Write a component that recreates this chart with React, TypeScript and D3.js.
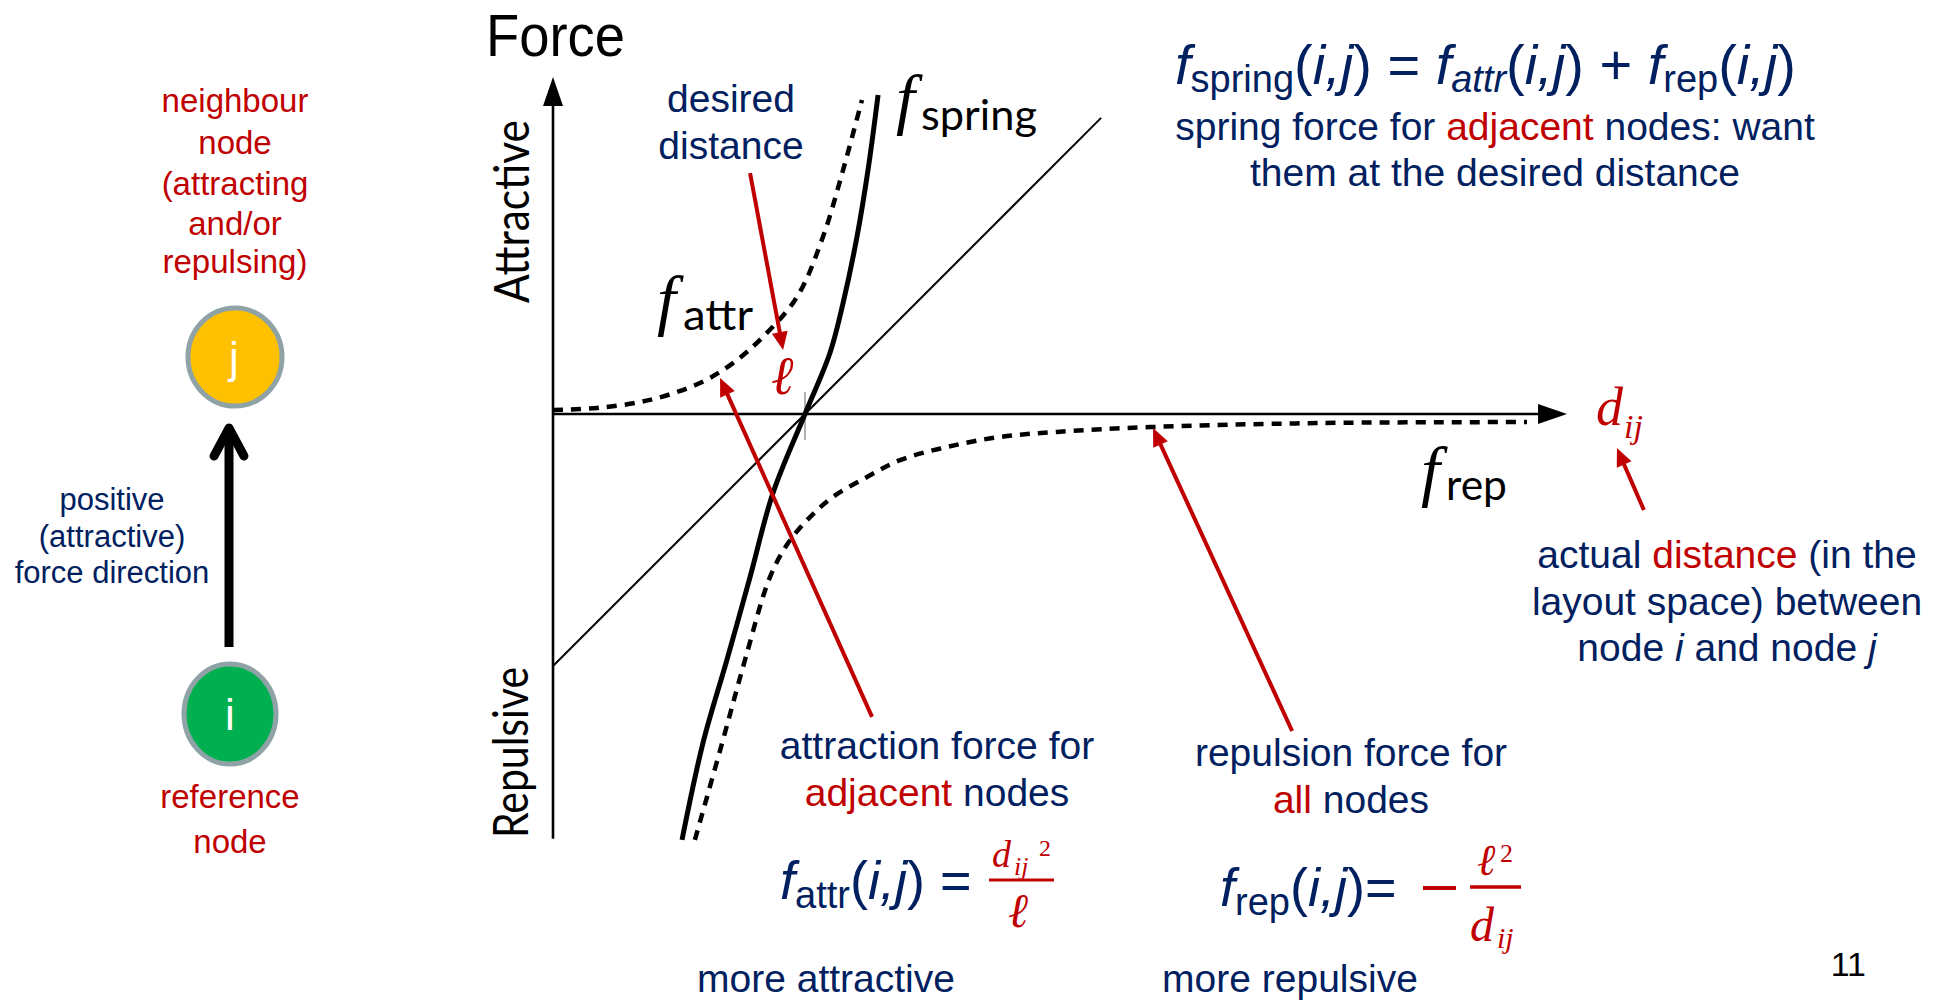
import React from 'react';
import * as d3 from 'd3';

const W = 1944;
const H = 1005;
const NAVY = '#002060';
const RED = '#C00000';

// distance d (in units of the desired length ℓ) and force f (same units)
const attrD = [0, 0.175, 0.385, 0.583, 0.714, 0.833, 0.968, 1.071, 1.151, 1.226];
const attrF = [0.016, 0.024, 0.056, 0.123, 0.202, 0.306, 0.464, 0.702, 0.968, 1.246];

const springD = [0.512, 0.595, 0.69, 0.782, 0.873, 1.0, 1.099, 1.151, 1.206, 1.25, 1.29];
const springF = [-1.69, -1.306, -0.976, -0.647, -0.313, 0, 0.242, 0.44, 0.702, 0.968, 1.266];

const repD = [0.563, 0.671, 0.762, 0.861, 0.933, 1.02, 1.111, 1.246, 1.377, 1.563, 1.774, 2.0, 2.369, 3.032, 3.865];
const repF = [-1.69, -1.306, -0.976, -0.647, -0.512, -0.409, -0.329, -0.25, -0.183, -0.131, -0.091, -0.071, -0.052, -0.036, -0.032];

const diagD = [0, 2.175];
const diagF = [-1.0, 1.175];

// axis extents
const xAxisMax = 4.024;
const yAxisMin = -1.686;
const yAxisMax = 1.337;

// annotation arrows: [fromD, fromF, toD, toF]
const annotArrows = [
  [0.782, 0.956, 0.913, 0.254],
  [1.266, -1.202, 0.663, 0.143],
  [2.933, -1.258, 2.381, -0.056],
  [4.329, -0.381, 4.222, -0.135],
];

const x = d3.scaleLinear().domain([0, 1]).range([553, 805]);
const y = d3.scaleLinear().domain([0, 1]).range([414, 162]);

const line = d3
  .line<[number, number]>()
  .x((p) => x(p[0]))
  .y((p) => y(p[1]))
  .curve(d3.curveCatmullRom.alpha(0.5));

const zip = (a: number[], b: number[]) => a.map((v, i) => [v, b[i]] as [number, number]);

function Arrow({ x1, y1, x2, y2, color, width, head, headW }: any) {
  const dx = x2 - x1;
  const dy = y2 - y1;
  const len = Math.sqrt(dx * dx + dy * dy);
  const ux = dx / len;
  const uy = dy / len;
  const bx = x2 - ux * head;
  const by = y2 - uy * head;
  const px = -uy * headW;
  const py = ux * headW;
  return (
    <g>
      <line x1={x1} y1={y1} x2={bx + ux * 2} y2={by + uy * 2} stroke={color} strokeWidth={width} />
      <polygon points={`${x2},${y2} ${bx + px},${by + py} ${bx - px},${by - py}`} fill={color} />
    </g>
  );
}

const SANS = "'Liberation Sans', Arial, sans-serif";
const CM = "Lato, 'Open Sans', sans-serif";
const SERIF = "'Liberation Serif', 'DejaVu Serif', serif";
const MATH = "'DejaVu Serif', 'Liberation Serif', serif";

export default function App() {
  const x0 = x(0);
  const yTop = y(yAxisMax);
  const yBot = y(yAxisMin);
  const xEnd = x(xAxisMax);
  const y0 = y(0);

  return (
    <svg
      width={W}
      height={H}
      viewBox={`0 0 ${W} ${H}`}
      style={{ position: 'fixed', left: 0, top: 0, background: '#fff', display: 'block' }}
    >
      <rect x={0} y={0} width={W} height={H} fill="#fff" />

      {/* ---------- Left panel ---------- */}
      <g fontFamily={SANS} fontSize={33} fill={RED} textAnchor="middle">
        <text x={235} y={112}>neighbour</text>
        <text x={235} y={154}>node</text>
        <text x={235} y={195}>(attracting</text>
        <text x={235} y={235}>and/or</text>
        <text x={235} y={273}>repulsing)</text>
        <text x={230} y={808}>reference</text>
        <text x={230} y={853}>node</text>
      </g>
      <ellipse cx={235} cy={357} rx={47} ry={49} fill="#FFC000" stroke="#8FA3A6" strokeWidth={5} />
      <text x={234} y={373} fontFamily={SANS} fontSize={44} fill="#fff" textAnchor="middle">j</text>
      <ellipse cx={230} cy={714} rx={46} ry={50} fill="#00B050" stroke="#8FA3A6" strokeWidth={5} />
      <text x={230} y={730} fontFamily={SANS} fontSize={44} fill="#fff" textAnchor="middle">i</text>

      <line x1={229} y1={647} x2={229} y2={430} stroke="#000" strokeWidth={9} />
      <polyline points="214,456 229,428 244,456" fill="none" stroke="#000" strokeWidth={9} strokeLinecap="round" strokeLinejoin="round" />

      <g fontFamily={SANS} fontSize={31} fill={NAVY} textAnchor="middle">
        <text x={112} y={510}>positive</text>
        <text x={112} y={547}>(attractive)</text>
        <text x={112} y={583}>force direction</text>
      </g>

      {/* ---------- Axes ---------- */}
      <text x={486} y={56} fontFamily={SANS} fontSize={59} fill="#000" textLength={139} lengthAdjust="spacingAndGlyphs">Force</text>
      <text transform={`translate(529,303) rotate(-90)`} fontFamily={CM} fontSize={48} fill="#000" textLength={183} lengthAdjust="spacingAndGlyphs">Attractive</text>
      <text transform={`translate(528,838) rotate(-90)`} fontFamily={CM} fontSize={48} fill="#000" textLength={171} lengthAdjust="spacingAndGlyphs">Repulsive</text>

      <line x1={x0} y1={yBot} x2={x0} y2={yTop + 20} stroke="#000" strokeWidth={2.6} />
      <polygon points={`${x0},${yTop} ${x0 - 10},${yTop + 29} ${x0 + 10},${yTop + 29}`} fill="#000" />
      <line x1={x0} y1={y0} x2={xEnd - 20} y2={y0} stroke="#000" strokeWidth={2.6} />
      <polygon points={`${xEnd},${y0} ${xEnd - 29},${y0 - 10} ${xEnd - 29},${y0 + 10}`} fill="#000" />

      {/* tick at desired length */}
      <line x1={x(1)} y1={y(0.087)} x2={x(1)} y2={y(-0.103)} stroke="#999" strokeWidth={1.5} />

      {/* ---------- Curves ---------- */}
      <path d={line(zip(diagD, diagF)) || ''} fill="none" stroke="#000" strokeWidth={2} />
      <path d={line(zip(attrD, attrF)) || ''} fill="none" stroke="#000" strokeWidth={4.5} strokeDasharray="10 8" />
      <path d={line(zip(repD, repF)) || ''} fill="none" stroke="#000" strokeWidth={4.5} strokeDasharray="10 8" />
      <path d={line(zip(springD, springF)) || ''} fill="none" stroke="#000" strokeWidth={5} />

      {/* curve labels */}
      <text x={896} y={122} fontFamily={SERIF} fontStyle="italic" fontSize={68} fill="#000">f</text>
      <text x={921} y={130} fontFamily={CM} fontSize={42} fill="#000" textLength={116} lengthAdjust="spacingAndGlyphs">spring</text>
      <text x={657} y={323} fontFamily={SERIF} fontStyle="italic" fontSize={68} fill="#000">f</text>
      <text x={683} y={330} fontFamily={CM} fontSize={42} fill="#000" textLength={70} lengthAdjust="spacingAndGlyphs">attr</text>
      <text x={1421} y={494} fontFamily={SERIF} fontStyle="italic" fontSize={68} fill="#000">f</text>
      <text x={1446} y={500} fontFamily={CM} fontSize={42} fill="#000" textLength={61} lengthAdjust="spacingAndGlyphs">rep</text>

      <text x={771} y={394} fontFamily={MATH} fontStyle="italic" fontSize={54} fill={RED}>ℓ</text>
      <text x={1596} y={425} fontFamily={SERIF} fontStyle="italic" fontSize={54} fill={RED}>d</text>
      <text x={1624} y={438} fontFamily={SERIF} fontStyle="italic" fontSize={34} fill={RED}>ij</text>

      {/* annotation arrows */}
      {annotArrows.map((a, i) => (
        <Arrow key={i} x1={x(a[0])} y1={y(a[1])} x2={x(a[2])} y2={y(a[3])} color={RED} width={4} head={18} headW={8} />
      ))}

      {/* ---------- Texts ---------- */}
      <g fontFamily={SANS} fontSize={39} fill={NAVY} textAnchor="middle">
        <text x={731} y={112}>desired</text>
        <text x={731} y={159}>distance</text>

        <text x={1495} y={140}>
          spring force for <tspan fill={RED}>adjacent</tspan> nodes: want
        </text>
        <text x={1495} y={186}>them at the desired distance</text>

        <text x={1727} y={568}>
          actual <tspan fill={RED}>distance</tspan> (in the
        </text>
        <text x={1727} y={615}>layout space) between</text>
        <text x={1727} y={661}>
          node <tspan fontStyle="italic">i</tspan> and node <tspan fontStyle="italic">j</tspan>
        </text>

        <text x={937} y={759}>attraction force for</text>
        <text x={937} y={806}>
          <tspan fill={RED}>adjacent</tspan> nodes
        </text>

        <text x={1351} y={766}>repulsion force for</text>
        <text x={1351} y={813}>
          <tspan fill={RED}>all</tspan> nodes
        </text>

        <text x={826} y={992}>more attractive</text>
        <text x={1290} y={992}>more repulsive</text>
      </g>

      {/* top formula */}
      <text x={1175} y={84} fontFamily={SANS} fontSize={56} fill={NAVY}>
        <tspan fontStyle="italic">f</tspan>
        <tspan fontSize={38} dy={8}>spring</tspan>
        <tspan dy={-8}>(</tspan>
        <tspan fontStyle="italic">i,j</tspan>
        <tspan>{') = '}</tspan>
        <tspan fontStyle="italic">f</tspan>
        <tspan fontSize={38} dy={8} fontStyle="italic">attr</tspan>
        <tspan dy={-8}>(</tspan>
        <tspan fontStyle="italic">i,j</tspan>
        <tspan>{') + '}</tspan>
        <tspan fontStyle="italic">f</tspan>
        <tspan fontSize={38} dy={8}>rep</tspan>
        <tspan dy={-8}>(</tspan>
        <tspan fontStyle="italic">i,j</tspan>
        <tspan>)</tspan>
      </text>

      {/* f_attr formula */}
      <text x={780} y={899} fontFamily={SANS} fontSize={54} fill={NAVY}>
        <tspan fontStyle="italic">f</tspan>
        <tspan fontSize={38} dy={9}>attr</tspan>
        <tspan dy={-9}>(</tspan>
        <tspan fontStyle="italic">i,j</tspan>
        <tspan>{') ='}</tspan>
      </text>
      <line x1={989} y1={880} x2={1054} y2={880} stroke={RED} strokeWidth={3} />
      <text x={992} y={867} fontFamily={SERIF} fontStyle="italic" fontSize={38} fill={RED}>d</text>
      <text x={1014} y={875} fontFamily={SERIF} fontStyle="italic" fontSize={26} fill={RED}>ij</text>
      <text x={1039} y={856} fontFamily={SERIF} fontSize={24} fill={RED}>2</text>
      <text x={1008} y={927} fontFamily={MATH} fontStyle="italic" fontSize={48} fill={RED}>ℓ</text>

      {/* f_rep formula */}
      <text x={1220} y={906} fontFamily={SANS} fontSize={54} fill={NAVY}>
        <tspan fontStyle="italic">f</tspan>
        <tspan fontSize={38} dy={9}>rep</tspan>
        <tspan dy={-9}>(</tspan>
        <tspan fontStyle="italic">i,j</tspan>
        <tspan>)=</tspan>
      </text>
      <line x1={1423} y1={888} x2={1456} y2={888} stroke={RED} strokeWidth={4} />
      <line x1={1470} y1={887} x2={1521} y2={887} stroke={RED} strokeWidth={3.5} />
      <text x={1477} y={875} fontFamily={MATH} fontStyle="italic" fontSize={44} fill={RED}>ℓ</text>
      <text x={1500} y={862} fontFamily={SERIF} fontSize={26} fill={RED}>2</text>
      <text x={1470} y={941} fontFamily={SERIF} fontStyle="italic" fontSize={48} fill={RED}>d</text>
      <text x={1497} y={948} fontFamily={SERIF} fontStyle="italic" fontSize={30} fill={RED}>ij</text>

      <text x={1866} y={976} fontFamily={SANS} fontSize={34} fill="#000" textAnchor="end">11</text>
    </svg>
  );
}
